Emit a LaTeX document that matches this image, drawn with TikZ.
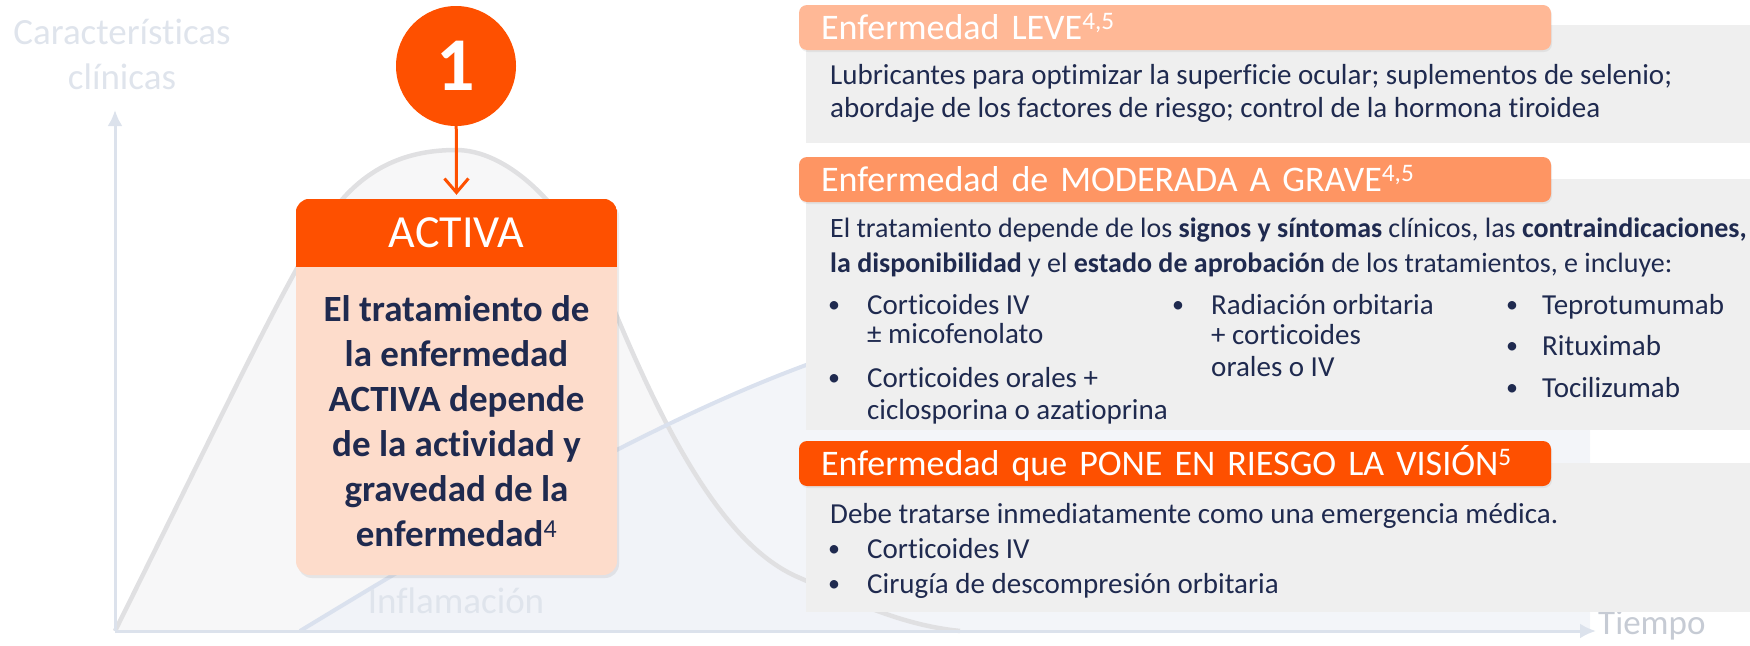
\documentclass[tikz,border=0pt]{standalone}
\usepackage{fontspec}
\setmainfont{Carlito}[Ligatures=NoCommon]
\usepackage{tikz}
\usetikzlibrary{arrows,arrows.meta,positioning,shadows}

\definecolor{brandorange}{HTML}{FE5000}
\definecolor{leveorange}{HTML}{FFB896}
\definecolor{modorange}{HTML}{FE9563}
\definecolor{peach}{HTML}{FDDCCB}
\definecolor{navy}{HTML}{1F2A4F}
\definecolor{panelgray}{HTML}{EFEFEF}
\definecolor{axisgray}{HTML}{DCE2EC}
\definecolor{bellgray}{HTML}{E0E0E2}
\definecolor{bellfill}{HTML}{F7F7F8}
\definecolor{inflblue}{HTML}{DAE1EE}
\definecolor{inflfill}{HTML}{F1F3F8}
\definecolor{faint}{HTML}{DFE4EC}

\newcommand{\bodysize}{\fontsize{29}{34}\selectfont}
\newcommand{\headsize}{\fontsize{36}{40}\selectfont}
% curves behind the boxes
\newcommand{\bellcurve}{(115,631) .. controls (230,400) and (290,270) .. (330,215) .. controls (365,165) and (410,150) .. (456,150) .. controls (505,150) and (565,200) .. (610,300) .. controls (660,420) and (720,545) .. (800,578) .. controls (850,600) and (900,625) .. (960,631)}
\newcommand{\inflcurve}{(300,631) .. controls (450,540) and (650,420) .. (820,360) .. controls (1000,300) and (1300,280) .. (1590,275)}

\tikzset
{
    headbar/.style  = {rectangle, rounded corners=8pt, minimum width=752pt, minimum height=45pt, text width=708pt, align=left, inner xsep=22pt, inner ysep=0pt, text height=28pt, text depth=5pt, font=\headsize, text=white, drop shadow={opacity=0.12, shadow xshift=1pt, shadow yshift=-2pt}},
    panel/.style    = {rectangle, fill=panelgray, minimum width=944pt, inner sep=0pt, anchor=north west},
    txtline/.style  = {anchor=base west, inner sep=0pt, font=\bodysize, text=navy},
    dotmark/.style  = {txtline, font=\fontsize{24}{24}\selectfont},
    faintlabel/.style = {text=faint, font=\fontsize{37}{45}\selectfont, inner sep=0pt, align=center},
    axis/.style     = {axisgray, line width=3pt, -{Latex[length=16pt, width=15pt]}}
}

\begin{document}
\begin{tikzpicture}[x=1pt, y=-1pt]
    \useasboundingbox (0,0) rectangle (1750,645);

    % background curves
    \fill[bellfill] \bellcurve -- cycle;
    \fill[inflfill, opacity=0.85] \inflcurve -- (1590,631) -- cycle;
    \draw[bellgray, line width=4.5pt] \bellcurve;
    \draw[inflblue, line width=4pt] \inflcurve;

    \coordinate (origin) at (115,631);
    \coordinate (ytop) at (115,110);
    \coordinate (xend) at (1596,631);
    \draw[axis] (origin) -- (ytop);
    \draw[axis] (origin) -- (xend);

    \node [faintlabel] (ylabel) at (122,54) {Características\\clínicas};
    \node [faintlabel] (inflabel) at (456,601) {Inflamación};
    \node [faintlabel, text=axisgray!90!black, font=\fontsize{35}{40}\selectfont, anchor=west] (tiempo) at ([xshift=2pt, yshift=6pt]xend) {Tiempo};

    % left box
    \node [circle, fill=brandorange, minimum size=120pt, inner sep=0pt, text=white, font=\fontsize{76}{76}\selectfont\bfseries] (one) at (456,66) {1};
    \node [rectangle, rounded corners=14pt, fill=peach, minimum width=321pt, minimum height=376pt, drop shadow={opacity=0.15, shadow xshift=2pt, shadow yshift=-3pt}] (activa) at (456.5,387) {};
    \begin{scope}
        \clip [rounded corners=14pt] (activa.north west) rectangle (activa.south east);
        \fill [brandorange] (activa.north west) rectangle ([yshift=-68pt]activa.north east);
    \end{scope}
    \node [text=white, font=\fontsize{46}{50}\selectfont, inner sep=0pt] (actlabel) at (456.5,233) {ACTIVA};
    \node [text=navy, font=\fontsize{37}{45}\selectfont\bfseries, align=center, inner sep=0pt] (acttext) at (456.5,421)
        {El tratamiento de\\la enfermedad\\ACTIVA depende\\de la actividad y\\gravedad de la\\enfermedad\textsuperscript{\mdseries 4}};
    \draw [-{Straight Barb[length=14pt, width=24pt]}, brandorange, line width=3pt] (one) -- ([yshift=4pt]activa.north);

    % right panels
    \node [panel, minimum height=118pt] (p1) at (806,25) {};
    \node [panel, minimum height=251pt] (p2) at (806,179) {};
    \node [panel, minimum height=149pt] (p3) at (806,463) {};

    \node [headbar, fill=leveorange] (leve) at (1175,27.5) {Enfermedad LEVE\textsuperscript{4,5}};
    \node [headbar, fill=modorange] (grave) at (1175,179.5) {Enfermedad de MODERADA A GRAVE\textsuperscript{4,5}};
    \node [headbar, fill=brandorange] (vision) at (1175,463.5) {Enfermedad que PONE EN RIESGO LA VISIÓN\textsuperscript{5}};

    \node [txtline] (leve1) at (830,84) {Lubricantes para optimizar la superficie ocular; suplementos de selenio;};
    \node [txtline] (leve2) at (830,117) {abordaje de los factores de riesgo; control de la hormona tiroidea};

    \node [txtline, font=\fontsize{28}{34}\selectfont] (grave1) at (830,237) {El tratamiento depende de los \textbf{signos y síntomas} clínicos, las \textbf{contraindicaciones,}};
    \node [txtline, font=\fontsize{28}{34}\selectfont] (grave2) at (830,272) {\textbf{la disponibilidad} y el \textbf{estado de aprobación} de los tratamientos, e incluye:};
    \node [txtline] (c1a) at (867,314) {Corticoides IV};
    \node [txtline] (c1b) at (867,343) {± micofenolato};
    \node [txtline] (c1c) at (867,387) {Corticoides orales +};
    \node [txtline] (c1d) at (867,419) {ciclosporina o azatioprina};
    \node [txtline] (c2a) at (1211,314) {Radiación orbitaria};
    \node [txtline] (c2b) at (1211,344) {+ corticoides};
    \node [txtline] (c2c) at (1211,376) {orales o IV};
    \node [txtline] (c3a) at (1542,314) {Teprotumumab};
    \node [txtline] (c3b) at (1542,355) {Rituximab};
    \node [txtline] (c3c) at (1542,397) {Tocilizumab};

    \node [txtline] (vis1) at (830,523) {Debe tratarse inmediatamente como una emergencia médica.};
    \node [txtline] (vis2) at (867,558) {Corticoides IV};
    \node [txtline] (vis3) at (867,593) {Cirugía de descompresión orbitaria};

    \foreach \bx/\by [count=\i] in {828/312, 828/385, 1172/312, 1506/312, 1506/353, 1506/395, 828/556, 828/591}
        \node [dotmark] (dot\i) at (\bx,\by) {•};
\end{tikzpicture}
\end{document}
